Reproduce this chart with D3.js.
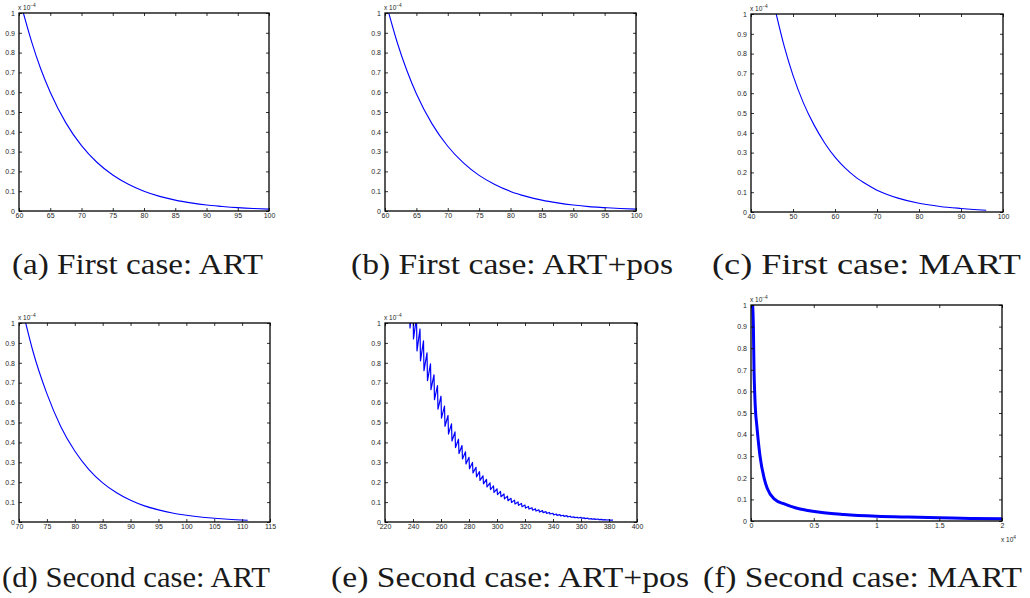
<!DOCTYPE html>
<html><head><meta charset="utf-8">
<script src="https://cdn.jsdelivr.net/npm/d3@7"></script>
<style>body{margin:0;background:#fff}</style></head>
<body>
<script>
// ---------- data ----------
const yTickVals = [0,0.1,0.2,0.3,0.4,0.5,0.6,0.7,0.8,0.9,1];
const yTickLabels = ["0","0.1","0.2","0.3","0.4","0.5","0.6","0.7","0.8","0.9","1"];

const aTicks = [60,65,70,75,80,85,90,95,100];
const aX = [60.7,62,63.5,65,67.5,70,72.5,75,77.5,80,82.5,85,87.5,90,92.5,95,97.5,100];
const aY = [1.0,0.857,0.716,0.6,0.445,0.33,0.245,0.182,0.135,0.10,0.074,0.055,0.041,0.03,0.023,0.017,0.0125,0.0093];

const bTicks = [60,65,70,75,80,85,90,95,100];
const bX = [60.6,62,63.5,65,67.5,70,72.5,75,77.5,80,82.5,85,87.5,90,92.5,95,97.5,100];
const bY = [1.0,0.846,0.708,0.592,0.44,0.327,0.243,0.18,0.134,0.099,0.074,0.055,0.041,0.03,0.022,0.017,0.0125,0.0093];

const cTicks = [40,50,60,70,80,90,100];
const cX = [46,48,50,52.5,55,57.5,60,62.5,65,67.5,70,75,80,85,90,93,96];
const cY = [1.0,0.83,0.69,0.55,0.44,0.35,0.277,0.22,0.175,0.14,0.11,0.07,0.044,0.028,0.018,0.013,0.009];

const dTicks = [70,75,80,85,90,95,100,105,110,115];
const dX = [71.2,72.5,75,77.5,80,82.5,85,87.5,90,92.5,95,97.5,100,102.5,105,107.5,111];
const dY = [1.0,0.858,0.645,0.479,0.357,0.265,0.197,0.147,0.109,0.081,0.061,0.045,0.034,0.025,0.019,0.014,0.009];

const eTicks = [220,240,260,280,300,320,340,360,380,400];
const eX  = [237.5,240,242.5,245,247.5,250,252.5,255,257.5,260,262.5,265,267.5,270,272.5,275,277.5,280,282.5,285,287.5,290,292.5,295,297.5,300,302.5,305,307.5,310,312.5,315,317.5,320,322.5,325,327.5,330,332.5,335,337.5,340,342.5,345,347.5,350,352.5,355,357.5,360,362.5,365,367.5,370,372.5,375,377.5,380,382.5];
const eHi = [1.17,1.10,1.03,0.97,0.91,0.85,0.795,0.74,0.685,0.632,0.582,0.535,0.493,0.453,0.416,0.384,0.353,0.325,0.299,0.275,0.253,0.232,0.214,0.197,0.181,0.167,0.154,0.141,0.130,0.119,0.110,0.101,0.093,0.085,0.078,0.072,0.066,0.061,0.057,0.052,0.048,0.044,0.040,0.037,0.034,0.032,0.029,0.026,0.024,0.023,0.021,0.019,0.017,0.016,0.015,0.013,0.012,0.011,0.010];
const eLo = [0.975,0.92,0.86,0.81,0.76,0.71,0.665,0.615,0.567,0.522,0.481,0.442,0.407,0.374,0.344,0.317,0.292,0.268,0.247,0.227,0.209,0.192,0.176,0.163,0.149,0.138,0.127,0.116,0.107,0.098,0.091,0.084,0.077,0.070,0.065,0.059,0.055,0.050,0.047,0.043,0.040,0.036,0.033,0.031,0.028,0.026,0.024,0.022,0.020,0.019,0.017,0.015,0.014,0.013,0.012,0.011,0.010,0.009,0.009];

const fTicks = [0,0.5,1,1.5,2];
const fTickLabels = ["0","0.5","1","1.5","2"];
const fX = [0.013,0.019,0.024,0.029,0.037,0.045,0.053,0.072,0.104,0.13,0.19,0.26,0.36,0.44,0.55,0.74,1.0,1.25,1.5,1.75,2.0];
const fY = [1.0,0.9,0.7,0.6,0.5,0.45,0.4,0.3,0.2,0.15,0.1,0.08,0.06,0.05,0.04,0.03,0.022,0.018,0.015,0.012,0.01];

const captions = ["(a) First case: ART","(b) First case: ART+pos","(c) First case: MART",
                  "(d) Second case: ART","(e) Second case: ART+pos","(f) Second case: MART"];

// ---------- layout ----------
const layout = [
  {l:19, r:269, t:13, b:211, cx1:12,  cx2:263,  cy:274},
  {l:385,r:636, t:13, b:211, cx1:351, cx2:673,  cy:274},
  {l:751,r:1003,t:14, b:212, cx1:712, cx2:1021, cy:274},
  {l:19, r:270, t:323,b:522, cx1:2,   cx2:270,  cy:587},
  {l:385,r:637, t:323,b:522, cx1:331, cx2:689,  cy:587},
  {l:751,r:1002,t:305,b:521, cx1:703, cx2:1022, cy:587}
];

const zip = (xs, ys) => xs.map((v,i)=>[v, ys[i]]);
const ePts = [];
eX.forEach((v,i)=>{ ePts.push([v, eHi[i]]); ePts.push([v+0.35, eLo[i]]); });

const panels = [
  {dom:[60,100], ticks:aTicks, pts:zip(aX,aY), w:1.1, curve:d3.curveMonotoneX},
  {dom:[60,100], ticks:bTicks, pts:zip(bX,bY), w:1.1, curve:d3.curveMonotoneX},
  {dom:[40,100], ticks:cTicks, pts:zip(cX,cY), w:1.1, curve:d3.curveMonotoneX},
  {dom:[70,115], ticks:dTicks, pts:zip(dX,dY), w:1.1, curve:d3.curveMonotoneX},
  {dom:[220,400],ticks:eTicks, pts:ePts,       w:1.2, curve:d3.curveLinear},
  {dom:[0,2],    ticks:fTicks, labels:fTickLabels, pts:zip(fX,fY), w:3, curve:d3.curveMonotoneX}
];

const SANS = "'Liberation Sans', Arial, Helvetica, sans-serif";
const SERIF = "'Liberation Serif', 'Times New Roman', Times, serif";

const svg = d3.select("body").append("svg").attr("width",1030).attr("height",598)
  .attr("font-family", SANS);
const defs = svg.append("defs");

panels.forEach((p, i) => {
  const L = layout[i];
  const x = d3.scaleLinear().domain(p.dom).range([L.l, L.r]);
  const y = d3.scaleLinear().domain([0,1]).range([L.b, L.t]);
  const g = svg.append("g");

  defs.append("clipPath").attr("id","clip"+i).append("rect")
    .attr("x",L.l).attr("y",L.t).attr("width",L.r-L.l).attr("height",L.b-L.t);

  g.append("path").datum(p.pts)
    .attr("clip-path",`url(#clip${i})`)
    .attr("fill","none").attr("stroke","#0000ff").attr("stroke-width",p.w)
    .attr("stroke-linejoin","round")
    .attr("d", d3.line().x(d=>x(d[0])).y(d=>y(d[1])).curve(p.curve));

  const fmt = p.labels ? ((d,k)=>p.labels[k]) : d3.format("d");
  const styleAxis = sel => {
    sel.attr("font-family", SANS).attr("font-size", 7);
    sel.select(".domain").remove();
    sel.selectAll(".tick line").attr("stroke","#000").attr("stroke-width",0.8);
    sel.selectAll(".tick text").attr("fill","#262626");
  };
  g.append("g").attr("transform",`translate(0,${L.b})`)
    .call(d3.axisBottom(x).tickValues(p.ticks).tickFormat(fmt).tickSizeInner(-3).tickSizeOuter(0).tickPadding(2.5))
    .call(styleAxis);
  g.append("g").attr("transform",`translate(0,${L.t})`)
    .call(d3.axisTop(x).tickValues(p.ticks).tickFormat("").tickSizeInner(-3).tickSizeOuter(0))
    .call(styleAxis);
  g.append("g").attr("transform",`translate(${L.l},0)`)
    .call(d3.axisLeft(y).tickValues(yTickVals).tickFormat((d,k)=>yTickLabels[k]).tickSizeInner(-3).tickSizeOuter(0).tickPadding(4))
    .call(styleAxis);
  g.append("g").attr("transform",`translate(${L.r},0)`)
    .call(d3.axisRight(y).tickValues(yTickVals).tickFormat("").tickSizeInner(-3).tickSizeOuter(0))
    .call(styleAxis);

  g.append("rect").attr("x",L.l).attr("y",L.t).attr("width",L.r-L.l).attr("height",L.b-L.t)
    .attr("fill","none").attr("stroke","#000").attr("stroke-width",1.3);

  // exponent label
  const ex = g.append("text").attr("x",L.l-1).attr("y",L.t-3).attr("fill","#262626")
    .attr("font-family", SANS).attr("font-size", 6.5);
  ex.append("tspan").text("x 10");
  ex.append("tspan").attr("dy",-3).attr("font-size",4.8).text("\u22124");

  // caption
  svg.append("text").attr("x",L.cx1).attr("y",L.cy)
    .attr("textLength",L.cx2-L.cx1).attr("lengthAdjust","spacingAndGlyphs")
    .attr("font-family", SERIF)
    .attr("font-size", 29).attr("fill","#1a1a1a")
    .text(captions[i]);

  if (i === 5) {
    const e2 = g.append("text").attr("x",L.r-1).attr("y",L.b+21).attr("fill","#262626")
      .attr("font-family", SANS).attr("font-size", 6.5);
    e2.append("tspan").text("x 10");
    e2.append("tspan").attr("dy",-3).attr("font-size",4.8).text("4");
  }
});
</script>
</body></html>
